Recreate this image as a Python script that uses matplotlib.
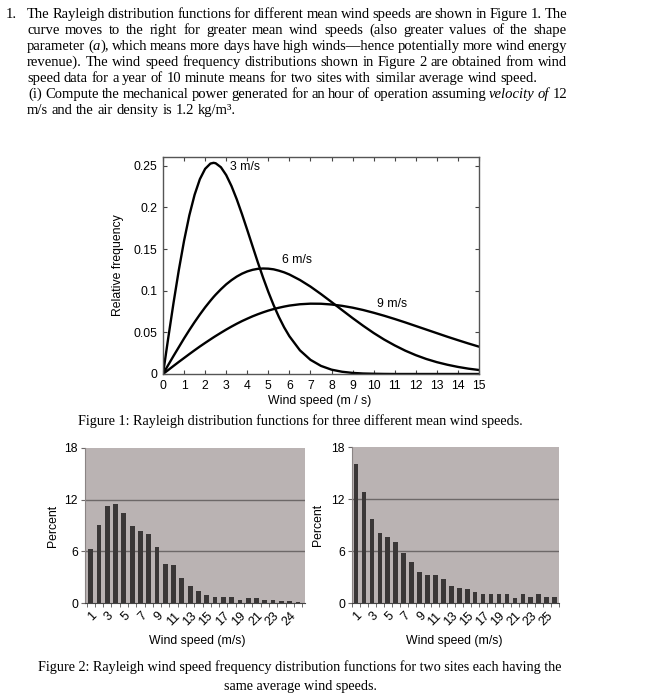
import matplotlib
matplotlib.use("Agg")
import matplotlib.pyplot as plt

plt.rcParams['font.family'] = ['Liberation Sans', 'DejaVu Sans']

W, H = 660, 697
SERIF = ['Liberation Serif', 'DejaVu Serif']
FS = 10.5
CAP_FS = 10.2

# question text (one entry per printed line), *...* marks italics
text_lines = [
    "The Rayleigh distribution functions for different mean wind speeds are shown in Figure 1. The",
    "curve moves to the right for greater mean wind speeds (also greater values of the shape",
    "parameter (*a*), which means more days have high winds\u2014hence potentially more wind energy",
    "revenue). The wind speed frequency distributions shown in Figure 2 are obtained from wind",
    "speed data for a year of 10 minute means for two sites with similar average wind speed.",
    "(i) Compute the mechanical power generated for an hour of operation assuming *velocity of* 12",
    "m/s and the air density is 1.2 kg/m\u00b3.",
]
justified = [True, True, True, True, False, True, False]
caption1 = "Figure 1: Rayleigh distribution functions for three different mean wind speeds."
caption2 = ["Figure 2: Rayleigh wind speed frequency distribution functions for two sites each having the",
            "same average wind speeds."]

# Figure 1: relative frequency
speed = [0, 0.25, 0.5, 0.75, 1, 1.25, 1.5, 1.75, 2, 2.25, 2.4, 2.5, 2.75, 3, 3.25, 3.5, 3.75,
         4, 4.25, 4.5, 4.75, 5, 5.25, 5.5, 5.75, 6, 6.5, 7, 7.5, 8, 8.5, 9, 9.5, 10,
         10.5, 11, 11.5, 12, 12.5, 13, 13.5, 14, 14.5, 15]
freq_3 = [0, 0.0434, 0.0854, 0.1246, 0.1599, 0.1904, 0.2151, 0.2338, 0.2462, 0.2525, 0.2534,
          0.2529, 0.2481, 0.2387, 0.2256, 0.2097, 0.1918, 0.1728, 0.1534, 0.1341, 0.1157,
          0.0985, 0.0827, 0.0685, 0.0560, 0.0453, 0.0284, 0.0170, 0.0097, 0.0052, 0.0027,
          0.0013, 0.0006, 0.0003, 0.0001, 0, 0, 0, 0, 0, 0, 0, 0, 0]
freq_6 = [0, 0.0109, 0.0217, 0.0322, 0.0427, 0.0527, 0.0623, 0.0714, 0.0800, 0.0879, 0.0924,
          0.0952, 0.1017, 0.1076, 0.1126, 0.1169, 0.1204, 0.1231, 0.1250, 0.1262, 0.1266,
          0.1264, 0.1256, 0.1240, 0.1220, 0.1194, 0.1128, 0.1049, 0.0959, 0.0864, 0.0767,
          0.0671, 0.0579, 0.0492, 0.0413, 0.0343, 0.0280, 0.0226, 0.0180, 0.0142, 0.0111,
          0.0085, 0.0064, 0.0048]
freq_9 = [0, 0.0048, 0.0097, 0.0145, 0.0192, 0.0239, 0.0285, 0.0330, 0.0373, 0.0415, 0.0440,
          0.0456, 0.0495, 0.0533, 0.0569, 0.0603, 0.0635, 0.0664, 0.0692, 0.0717, 0.0740,
          0.0761, 0.0779, 0.0795, 0.0809, 0.0821, 0.0837, 0.0844, 0.0843, 0.0834, 0.0818,
          0.0796, 0.0768, 0.0735, 0.0699, 0.0660, 0.0619, 0.0576, 0.0533, 0.0490, 0.0447,
          0.0406, 0.0366, 0.0328]
curve_labels = ["3 m/s", "6 m/s", "9 m/s"]
label_pos = [(3.2, 0.249), (5.65, 0.137), (10.15, 0.084)]

# Figure 2: percent per wind speed bin for the two sites
site1_pct = [6.3, 9.05, 11.25, 11.5, 10.45, 8.9, 8.35, 8.05, 6.55, 4.55, 4.4, 2.9, 1.95,
             1.4, 0.95, 0.75, 0.75, 0.75, 0.4, 0.55, 0.55, 0.38, 0.4, 0.27, 0.27, 0.08]
site1_ticks = ['1', '3', '5', '7', '9', '11', '13', '15', '17', '19', '21', '23', '24']
site2_pct = [16.05, 12.85, 9.65, 8.05, 7.62, 7.05, 5.78, 4.78, 3.52, 3.2, 3.2, 2.8, 1.93,
             1.68, 1.6, 1.25, 1.08, 1.02, 1.02, 1.02, 0.63, 1.02, 0.72, 1.02, 0.67, 0.67]
site2_ticks = ['1', '3', '5', '7', '9', '11', '13', '15', '17', '19', '21', '23', '25']

fig = plt.figure(figsize=(W / 100, H / 100), dpi=100)
renderer = fig.canvas.get_renderer()
em = FS * 100 / 72


def parse(line):
    words, state = [], False
    for w in line.split(' '):
        segs = []
        for i, p in enumerate(w.split('*')):
            if i > 0:
                state = not state
            if p:
                segs.append((p, state))
        words.append(segs)
    return words


def draw_line(x0, yb, line, x1=None):
    words = parse(line)
    objs, widths = [], []
    for segs in words:
        parts, tot = [], 0
        for s, it in segs:
            t = fig.text(0, 0, s, transform=None, fontsize=FS, family=SERIF,
                         style='italic' if it else 'normal', va='baseline')
            wd = t.get_window_extent(renderer).width
            parts.append((t, wd))
            tot += wd
        objs.append(parts)
        widths.append(tot)
    gap = 0.25 * em if x1 is None else (x1 - x0 - sum(widths)) / (len(words) - 1)
    x = x0
    for parts in objs:
        for t, wd in parts:
            t.set_position((x, H - yb))
            x += wd
        x += gap


fig.text(6, H - 18, "1.", transform=None, fontsize=FS, family=SERIF, va='baseline')
baselines = [18, 34, 50, 66, 82, 98, 114]
for i, (ln, jus) in enumerate(zip(text_lines, justified)):
    x0 = 28.5 if i == 5 else 27
    draw_line(x0, baselines[i], ln, 567 if jus else None)

fig.text(300, H - 425, caption1, transform=None, fontsize=CAP_FS, family=SERIF,
         ha='center', va='baseline')
fig.text(300, H - 671, caption2[0], transform=None, fontsize=CAP_FS, family=SERIF,
         ha='center', va='baseline')
fig.text(300, H - 690, caption2[1], transform=None, fontsize=CAP_FS, family=SERIF,
         ha='center', va='baseline')

# --- Figure 1 ---
ax = fig.add_axes([163 / W, 1 - 374 / H, 316 / W, 217 / H])
for f in (freq_3, freq_6, freq_9):
    ax.plot(speed, f, color='black', lw=1.7, solid_capstyle='round')
for lab, (x, y) in zip(curve_labels, label_pos):
    ax.text(x, y, lab, fontsize=8.8, ha='left', va='center')
ax.set_xlim(0, 15)
ax.set_ylim(0, 0.2604)
ax.set_xticks(range(16))
ax.set_yticks([0, 0.05, 0.1, 0.15, 0.2, 0.25])
ax.set_yticklabels(['0', '0.05', '0.1', '0.15', '0.2', '0.25'])
ax.tick_params(direction='in', top=True, right=True, length=3, labelsize=8.8,
               color='#444444', pad=4)
for s in ax.spines.values():
    s.set_color('#555555')
    s.set_linewidth(1.0)
ax.set_xlabel("Wind speed (m / s)", fontsize=8.8)
ax.set_ylabel("Relative frequency", fontsize=8.8)
ax.xaxis.set_label_coords(0.497, -0.098)
ax.yaxis.set_label_coords(-0.125, 0.5)


# --- Figure 2 ---
def bar_panel(rect, values, ticks, xlim, ylab_x, xlab_x):
    a = fig.add_axes(rect)
    a.set_facecolor('#bab3b3')
    for g in (6, 12):
        a.axhline(g, color='#6d6868', lw=1.0, zorder=1)
    a.bar(range(len(values)), values, width=0.58, color='#3a3737', zorder=2)
    a.set_xlim(*xlim)
    a.set_ylim(0, 18)
    a.set_yticks([0, 6, 12, 18])
    a.set_xticks(range(0, 2 * len(ticks), 2))
    a.set_xticklabels(ticks, rotation=45, ha='right', va='top', rotation_mode='anchor')
    a.set_xticks([i + 0.5 for i in range(-1, len(values))], minor=True)
    a.tick_params(axis='x', which='major', length=0, pad=5, labelsize=9)
    a.tick_params(axis='x', which='minor', length=3, color='#555555')
    a.tick_params(axis='y', length=3, color='#6d6868', labelsize=8.8, pad=2)
    for side in ('top', 'right'):
        a.spines[side].set_visible(False)
    a.spines['left'].set_color('#8a8484')
    a.spines['bottom'].set_color('#444444')
    a.set_ylabel("Percent", fontsize=8.8)
    a.set_xlabel("Wind speed (m/s)", fontsize=8.8)
    a.yaxis.set_label_coords(ylab_x, 0.5)
    a.xaxis.set_label_coords(xlab_x, -0.205)
    return a


bar_panel([85 / W, 1 - 603 / H, 220 / W, 155 / H], site1_pct, site1_ticks,
          (-0.69, 25.85), -0.12, 0.509)
bar_panel([352 / W, 1 - 603 / H, 206.6 / W, 156 / H], site2_pct, site2_ticks,
          (-0.5, 25.5), -0.135, 0.494)

fig.savefig("out.png", dpi=100)
